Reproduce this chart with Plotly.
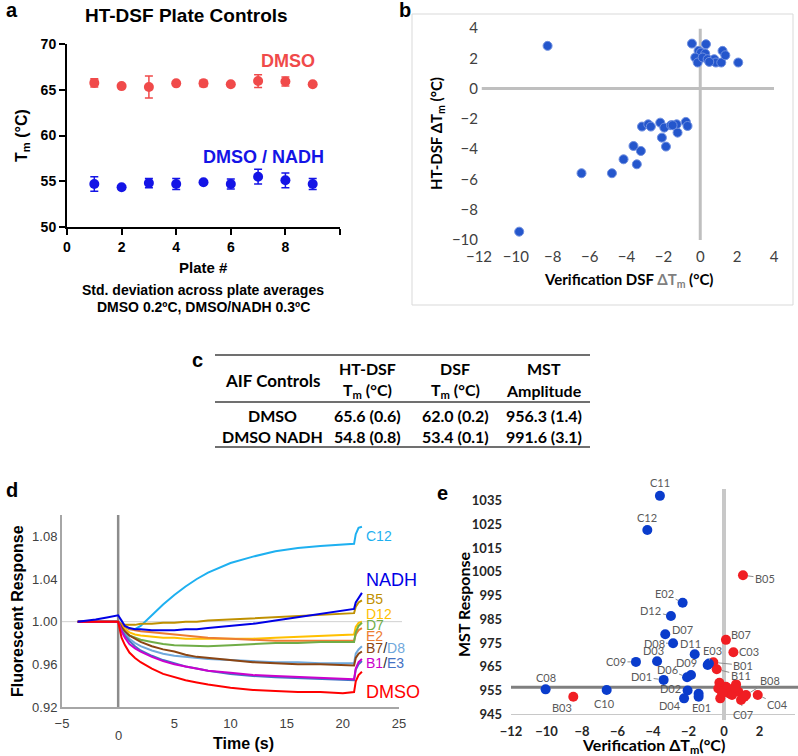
import plotly.graph_objects as go

W, H = 798, 756
def X(px): return px / W
def Y(py): return 1 - py / H

RED_A = "#f04a4a"
BLUE_A = "#1414e6"
ARIAL = "Liberation Sans"
CAL = "Lato"

# ---------------- Panel a data ----------------
plates = [1, 2, 3, 4, 5, 6, 7, 8, 9]
dmso_tm = [65.75, 65.4, 65.3, 65.7, 65.7, 65.6, 65.95, 65.9, 65.6]
dmso_err = [0.45, 0, 1.2, 0, 0.35, 0, 0.7, 0.5, 0]
nadh_tm = [54.7, 54.35, 54.8, 54.7, 54.9, 54.7, 55.5, 55.1, 54.7]
nadh_err = [0.8, 0, 0.5, 0.6, 0, 0.55, 0.8, 0.8, 0.6]
a_xticks = [0, 2, 4, 6, 8, 10]
a_xticktext = ["0", "2", "4", "6", "8", " "]

# ---------------- Panel b data ----------------
b_x = [-8.28, -9.82, -6.44, -4.79, -4.16, -3.44, -3.62, -3.22, -3.16, -2.82, -2.68,
       -2.17, -1.95, -2.08, -1.86, -1.59, -1.28, -1.23, -0.78, -0.69, -1.5,
       -0.45, 0.31, -0.09, 0.04, 0.27, -0.27, -0.14, 0.13, 0.40, 0.70, 0.76, 0.85,
       1.14, 1.21, 1.36, 2.06, 0.49]
b_y = [2.82, -9.45, -5.59, -5.59, -4.67, -5.0, -3.79, -4.12, -2.51, -2.36, -2.51,
       -2.25, -2.58, -3.24, -3.83, -2.42, -2.36, -2.91, -2.20, -2.47, -2.42,
       2.97, 2.93, 2.49, 2.38, 2.31, 2.05, 1.72, 2.05, 1.94, 1.83, 1.94, 1.72,
       1.72, 2.49, 2.20, 1.72, 1.76]

# ---------------- Panel c data ----------------
table_header_top = ["", "HT-DSF", "DSF", "MST"]
table_header_bottom = ["AIF Controls", "T<sub>m</sub> (°C)", "T<sub>m</sub> (°C)", "Amplitude"]
table_rows = [["DMSO", "65.6 (0.6)", "62.0 (0.2)", "956.3 (1.4)"],
              ["DMSO NADH", "54.8 (0.8)", "53.4 (0.1)", "991.6 (3.1)"]]

# ---------------- Panel d data ----------------
t = [-3.6, -2, -1, 0, 0.3, 0.6, 1, 1.5, 2, 3, 4, 5, 6, 7, 8, 10, 12, 14, 16, 18, 20, 21, 21.15, 21.4, 21.7]
d_series = {
    "C12":  [1.0, 1.0, 1.0, 1.0, 0.997, 0.995, 0.993, 0.993, 0.996, 1.006, 1.016, 1.025, 1.033, 1.040, 1.046, 1.055, 1.061, 1.066, 1.069, 1.071, 1.072, 1.073, 1.082, 1.088, 1.089],
    "NADH": [1.000, 1.002, 1.004, 1.006, 1.001, 0.996, 0.994, 0.993, 0.993, 0.992, 0.992, 0.992, 0.993, 0.993, 0.994, 0.996, 0.998, 1.001, 1.004, 1.007, 1.010, 1.012, 1.018, 1.022, 1.027],
    "B5":   [1.0, 1.0, 1.0, 1.0, 0.998, 0.997, 0.997, 0.997, 0.998, 0.998, 0.999, 0.999, 1.000, 1.000, 1.001, 1.002, 1.003, 1.004, 1.005, 1.006, 1.007, 1.008, 1.014, 1.018, 1.020],
    "D12":  [1.0, 1.0, 1.0, 1.0, 0.996, 0.993, 0.990, 0.988, 0.987, 0.986, 0.985, 0.985, 0.984, 0.984, 0.984, 0.984, 0.984, 0.985, 0.986, 0.987, 0.988, 0.988, 0.995, 0.999, 1.000],
    "D7":   [1.0, 1.0, 1.0, 1.0, 0.993, 0.990, 0.987, 0.985, 0.983, 0.981, 0.979, 0.978, 0.9775, 0.977, 0.977, 0.978, 0.979, 0.980, 0.980, 0.981, 0.981, 0.981, 0.990, 0.996, 0.999],
    "E2":   [1.0, 1.0, 1.0, 1.0, 0.997, 0.995, 0.993, 0.992, 0.991, 0.990, 0.989, 0.988, 0.987, 0.986, 0.985, 0.984, 0.983, 0.982, 0.982, 0.982, 0.982, 0.982, 0.988, 0.992, 0.994],
    "D8":   [1.0, 1.0, 1.0, 1.0, 0.993, 0.989, 0.984, 0.980, 0.977, 0.973, 0.970, 0.968, 0.967, 0.966, 0.965, 0.964, 0.963, 0.962, 0.962, 0.961, 0.961, 0.961, 0.970, 0.974, 0.977],
    "B7":   [1.0, 1.0, 1.0, 1.0, 0.995, 0.991, 0.987, 0.984, 0.981, 0.977, 0.974, 0.972, 0.969, 0.967, 0.966, 0.964, 0.962, 0.961, 0.960, 0.960, 0.959, 0.959, 0.966, 0.970, 0.972],
    "E3":   [1.0, 1.0, 1.0, 1.0, 0.992, 0.987, 0.982, 0.977, 0.973, 0.968, 0.964, 0.961, 0.958, 0.956, 0.954, 0.951, 0.949, 0.948, 0.947, 0.946, 0.945, 0.945, 0.955, 0.960, 0.963],
    "B1":   [1.0, 1.0, 1.0, 1.0, 0.991, 0.985, 0.979, 0.975, 0.972, 0.967, 0.963, 0.960, 0.958, 0.956, 0.954, 0.952, 0.950, 0.949, 0.948, 0.947, 0.946, 0.946, 0.956, 0.962, 0.965],
    "DMSO": [1.0, 1.0, 1.0, 1.0, 0.985, 0.978, 0.971, 0.966, 0.962, 0.956, 0.951, 0.948, 0.945, 0.943, 0.941, 0.938, 0.936, 0.935, 0.934, 0.934, 0.933, 0.934, 0.944, 0.950, 0.953],
}
d_colors = {"C12": "#1eb0f0", "NADH": "#0000e6", "B5": "#bf9000", "D12": "#ffc000",
            "D7": "#70ad47", "E2": "#ed7d31", "D8": "#6fa8dc", "B7": "#8b4513",
            "E3": "#4472c4", "B1": "#cc00cc", "DMSO": "#ff0000"}
d_yticks = [0.92, 0.96, 1.00, 1.04, 1.08]
d_xticks = [-5, 5, 10, 15, 20, 25]

# ---------------- Panel e data ----------------
e_blue_names = ["C11", "C12", "E02", "D12", "D07", "D08", "D11", "D03", "C09", "E03", "", "D09",
                "D06", "D01", "D02", "D04", "E01", "", "C08", "C10"]
e_blue_x = [-3.61, -4.32, -2.33, -2.99, -3.31, -2.87, -1.65, -3.77, -4.96, -0.92, -0.85, -1.86,
            -2.08, -3.40, -2.05, -2.25, -1.43, -1.43, -10.05, -6.61]
e_blue_y = [1037.1, 1022.7, 992.0, 986.4, 978.7, 974.9, 970.2, 967.3, 967.0, 965.7, 966.3, 961.5,
            960.5, 959.4, 954.9, 951.6, 953.5, 952.3, 955.4, 955.1]
e_red_names = ["B05", "B07", "C03", "B01", "B11", "B03", "C04", "C07", "B08",
               "", "", "", "", "", "", "", "", "", "", "", "", "", ""]
e_red_x = [1.07, 0.11, 0.53, -0.60, -0.41, -8.49, 1.90, 0.96, 1.24,
           -0.26, -0.32, -0.21, 0.11, 0.30, 0.54, 0.68, 0.02, 0.81, 1.15, 0.20, 0.45, -0.10, 0.62]
e_red_y = [1003.6, 976.3, 971.1, 966.8, 963.9, 952.3, 953.0, 950.9, 953.0,
           958.2, 955.8, 951.6, 956.5, 953.7, 955.4, 957.5, 954.9, 954.4, 952.3, 955.9, 953.0, 953.8, 956.3]
e_ref_mst = 956.3
e_yticks = [945, 955, 965, 975, 985, 995, 1005, 1015, 1025, 1035]

fig = go.Figure()

# Panel a traces
fig.add_trace(go.Scatter(x=plates, y=dmso_tm, mode="markers", xaxis="x", yaxis="y",
                         marker=dict(size=10, color=RED_A),
                         error_y=dict(type="data", array=dmso_err, visible=True, color=RED_A, thickness=1.5, width=4)))
fig.add_trace(go.Scatter(x=plates, y=nadh_tm, mode="markers", xaxis="x", yaxis="y",
                         marker=dict(size=10, color=BLUE_A),
                         error_y=dict(type="data", array=nadh_err, visible=True, color=BLUE_A, thickness=1.5, width=4)))

# Panel b
fig.add_trace(go.Scatter(x=b_x, y=b_y, mode="markers", xaxis="x2", yaxis="y2",
                         marker=dict(size=9, color="#2456cc", line=dict(color="#6f8fe0", width=1))))

# Panel d
for name in ["C12", "B5", "D12", "E2", "D7", "D8", "B7", "E3", "B1", "DMSO", "NADH"]:
    fig.add_trace(go.Scatter(x=t, y=d_series[name], mode="lines", xaxis="x3", yaxis="y3",
                             line=dict(color=d_colors[name], width=2)))

# Panel e
fig.add_trace(go.Scatter(x=e_red_x, y=e_red_y, mode="markers", xaxis="x4", yaxis="y4",
                         marker=dict(size=10, color="#f01e23")))
fig.add_trace(go.Scatter(x=e_blue_x, y=e_blue_y, mode="markers", xaxis="x4", yaxis="y4",
                         marker=dict(size=10, color="#0a3ccc")))

bold_ax = dict(family=ARIAL, size=14, color="black", weight="bold")
fig.update_layout(
    width=W, height=H, margin=dict(l=0, r=0, t=0, b=0, autoexpand=False),
    paper_bgcolor="white", plot_bgcolor="white", showlegend=False,
    xaxis=dict(domain=[X(67), X(340)], range=[0, 10], anchor="y", showline=True, linecolor="black",
               linewidth=2, ticks="outside", ticklen=6, tickwidth=2, tickcolor="black", automargin=False,
               tickvals=a_xticks, ticktext=a_xticktext, tickfont=bold_ax, showgrid=False, zeroline=False),
    yaxis=dict(domain=[Y(227), Y(44)], range=[50, 70], anchor="x", showline=True, linecolor="black",
               linewidth=2, ticks="outside", ticklen=6, tickwidth=2, tickcolor="black", automargin=False,
               tickvals=[50, 55, 60, 65, 70], tickfont=bold_ax, showgrid=False, zeroline=False),
    xaxis2=dict(domain=[X(479), X(774)], range=[-12, 4], anchor="y2", dtick=2, showline=False,
                showgrid=False, zeroline=False, ticklabelstandoff=6, automargin=False,
                tickfont=dict(family=CAL, size=15, color="#404040")),
    yaxis2=dict(domain=[Y(240), Y(28)], range=[-10, 4], anchor="x2", dtick=2, showline=False,
                showgrid=False, zeroline=False, automargin=False,
                tickfont=dict(family=CAL, size=15, color="#404040")),
    xaxis3=dict(domain=[X(62), X(399)], range=[-5, 25], anchor="y3", tickvals=d_xticks,
                showline=True, linecolor="#a6a6a6", linewidth=2, showgrid=False, zeroline=False,
                ticklabelstandoff=3, automargin=False,
                tickfont=dict(family=ARIAL, size=13, color="#404040")),
    yaxis3=dict(domain=[Y(707), Y(515)], range=[0.92, 1.10], anchor="x3", tickvals=d_yticks,
                ticktext=["%.2f" % v for v in d_yticks], showline=True, linecolor="#a6a6a6",
                linewidth=2, showgrid=False, zeroline=False, automargin=False,
                tickfont=dict(family=ARIAL, size=13, color="#404040")),
    xaxis4=dict(domain=[X(511), X(795)], range=[-12, 4], anchor="y4", dtick=2, showline=True,
                linecolor="#c8c8c8", linewidth=1, showgrid=False, zeroline=False, ticklabelstandoff=5,
                automargin=False, tickfont=dict(family=CAL, size=13, color="#262626", weight="bold")),
    yaxis4=dict(domain=[Y(714), Y(489)], range=[945, 1040], anchor="x4", tickvals=e_yticks,
                showline=False, showgrid=False, zeroline=False, ticklabelstandoff=8, automargin=False,
                tickfont=dict(family=CAL, size=13, color="#262626", weight="bold")),
)

shapes = []
# panel b box and reference lines
shapes.append(dict(type="rect", xref="paper", yref="paper", x0=X(412), x1=X(793), y0=Y(305), y1=Y(14),
                   line=dict(color="#d9d9d9", width=1), layer="below"))
shapes.append(dict(type="line", xref="x2", yref="y2", x0=-11.85, x1=4.05, y0=0, y1=0,
                   line=dict(color="#bfbfbf", width=3), layer="below"))
shapes.append(dict(type="line", xref="x2", yref="y2", x0=0, x1=0, y0=-10.05, y1=3.95,
                   line=dict(color="#bfbfbf", width=3), layer="below"))
# table lines
for py in [355, 402, 447]:
    shapes.append(dict(type="line", xref="paper", yref="paper", x0=X(215), x1=X(590), y0=Y(py), y1=Y(py),
                       line=dict(color="#404040", width=1.5)))
# panel d lines
shapes.append(dict(type="line", xref="paper", yref="y3", x0=X(62), x1=X(402), y0=1.0, y1=1.0,
                   line=dict(color="#d0d0d0", width=1), layer="below"))
shapes.append(dict(type="line", xref="x3", yref="paper", x0=0, x1=0, y0=Y(707), y1=Y(515),
                   line=dict(color="#8c8c8c", width=2.5), layer="below"))
# panel e lines
shapes.append(dict(type="line", xref="x4", yref="paper", x0=0, x1=0, y0=Y(720), y1=Y(489),
                   line=dict(color="#c8c8c8", width=4), layer="below"))
shapes.append(dict(type="line", xref="paper", yref="y4", x0=X(511), x1=1.0, y0=e_ref_mst, y1=e_ref_mst,
                   line=dict(color="#7f7f7f", width=3), layer="below"))
fig.update_layout(shapes=shapes)

ann = []
def txt(px, py, text, size, color="black", family=ARIAL, bold=False, angle=0, xanchor="center"):
    ann.append(dict(x=X(px), y=Y(py), xref="paper", yref="paper", text=text, showarrow=False,
                    xanchor=xanchor, yanchor="middle", textangle=angle,
                    font=dict(family=family, size=size, color=color, weight="bold" if bold else "normal")))

# panel letters
txt(12, 10, "a", 20, bold=True)
txt(405, 10, "b", 20, bold=True)
txt(197, 360, "c", 20, bold=True)
txt(12, 490, "d", 20, bold=True)
txt(442, 493, "e", 20, bold=True)

# panel a text
txt(186, 15, "HT-DSF Plate Controls", 19, bold=True)
txt(288, 61, "DMSO", 18, color=RED_A, bold=True)
txt(263, 157, "DMSO / NADH", 18, color=BLUE_A, bold=True)
txt(203, 267, "Plate #", 15, bold=True)
txt(203, 290, "Std. deviation across plate averages", 14, bold=True)
txt(203, 307, "DMSO 0.2ºC, DMSO/NADH 0.3ºC", 14, bold=True)
txt(22, 136, "T<sub>m</sub> (°C)", 16, bold=True, angle=-90)

# panel b text
txt(437, 134, "HT-DSF ΔT<sub>m</sub> (°C)", 15, family=CAL, bold=True, angle=-90)
txt(628, 280, "Verification DSF <span style='color:#7f7f7f'>ΔT<sub>m</sub></span> (°C)", 15, family=CAL, bold=True)

# table
col_x = [272, 367, 455, 544]
for cx, h1, h2 in zip(col_x, table_header_top, table_header_bottom):
    if h1:
        txt(cx, 368, h1, 16, family=CAL, bold=True)
        txt(cx, 390, h2, 16, family=CAL, bold=True)
    else:
        txt(cx, 380, h2, 17, family=CAL, bold=True)
for ry, row in zip([415, 436], table_rows):
    for cx, cell in zip(col_x, row):
        txt(cx, ry, cell, 16, family=CAL, bold=True)

# panel d text
txt(17, 611, "Fluorescent Response", 16, bold=True, angle=-90)
txt(243, 743, "Time (s)", 16, bold=True)
ann.append(dict(x=0, y=Y(735), xref="x3", yref="paper", text="0", showarrow=False,
                xanchor="center", yanchor="middle",
                font=dict(family=ARIAL, size=13, color="#404040")))
d_labels = [(536, "<span style='color:#1eb0f0'>C12</span>", 14),
            (580, "<span style='color:#0000e6'>NADH</span>", 18),
            (599, "<span style='color:#bf9000'>B5</span>", 14),
            (614, "<span style='color:#ffc000'>D12</span>", 14),
            (625, "<span style='color:#70ad47'>D7</span>", 14),
            (636, "<span style='color:#ed7d31'>E2</span>", 14),
            (648, "<span style='color:#8b4513'>B7</span>/<span style='color:#6fa8dc'>D8</span>", 14),
            (663, "<span style='color:#cc00cc'>B1</span>/<span style='color:#4472c4'>E3</span>", 14),
            (692, "<span style='color:#ff0000'>DMSO</span>", 18)]
for py, text, sz in d_labels:
    txt(364, py, text, sz, color="#262626", xanchor="left")

# panel e text
txt(463, 604, "MST Response", 16, family=CAL, bold=True, angle=-90)
txt(653, 745, "Verification ΔT<sub>m</sub>(°C)", 16, family=CAL, bold=True)

e_label_style = {
    "C11": (0, -13, False), "C12": (0, -12, False), "E02": (-18, -9, True), "D12": (-20, -5, True),
    "D07": (17, -5, False), "D08": (-19, 0, True), "D11": (-4, -11, False), "D03": (-4, -11, False),
    "C09": (-20, 0, True), "E03": (5, -14, True), "D09": (-4, -12, False), "D06": (-20, -8, True),
    "D01": (-22, -3, True), "D02": (-17, -2, False), "D04": (-14, 7, False), "E01": (3, 14, False),
    "C08": (0, -12, False), "C10": (-2, 13, False),
    "B05": (22, 3, True), "B07": (15, -5, False), "C03": (16, -1, False), "B01": (30, 3, True),
    "B11": (24, 6, True), "B08": (24, -15, True), "C04": (20, 9, True), "C07": (2, 14, True),
    "B03": (-11, 11, False),
}
for names, xs, ys in [(e_blue_names, e_blue_x, e_blue_y), (e_red_names, e_red_x, e_red_y)]:
    for n, xv, yv in zip(names, xs, ys):
        if not n:
            continue
        axp, ayp, lead = e_label_style[n]
        ann.append(dict(x=xv, y=yv, xref="x4", yref="y4", text=n, showarrow=True, arrowhead=0,
                        ax=axp, ay=ayp, arrowwidth=1, standoff=5,
                        arrowcolor="#8c8c8c" if lead else "rgba(0,0,0,0)",
                        font=dict(family=CAL, size=11, color="#595959")))

fig.update_layout(annotations=ann)
fig.write_html("out.html", config={"displayModeBar": False},
               post_script="document.body.style.margin='0';document.body.style.overflow='hidden';")
